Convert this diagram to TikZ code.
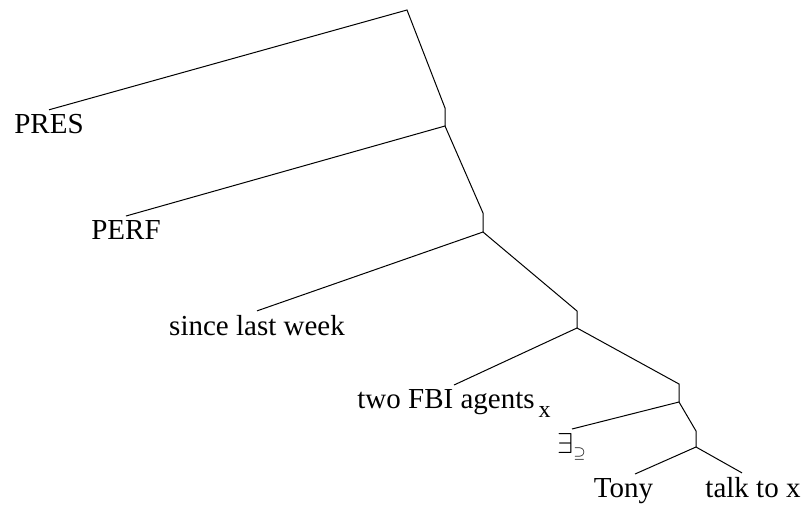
\documentclass[tikz,border=0pt]{standalone}
\usepackage{fontspec}
\setmainfont{Liberation Serif}
\begin{document}
\begin{tikzpicture}[x=0.5pt,y=-0.5pt,line width=0.5pt,
    leaf/.style={anchor=base,inner sep=0pt,outer sep=2pt,font=\fontsize{14.5}{17}\selectfont}]
      \useasboundingbox (0,0) rectangle (802,504);
      % branch points: top and bottom of each short stub
      \coordinate (r) at (407,10);
      \coordinate (a1t) at (445,108);
      \coordinate (a1b) at (445,126);
      \coordinate (a2t) at (483,213);
      \coordinate (a2b) at (483,232);
      \coordinate (a3t) at (577,311);
      \coordinate (a3b) at (577,328);
      \coordinate (a4t) at (679,384);
      \coordinate (a4b) at (679,402);
      \coordinate (a5t) at (696,431);
      \coordinate (a5b) at (696,447);
      % leaves
      \node[leaf] (pres) at (49,133) {PRES};
      \node[leaf] (perf) at (126,239) {PERF};
      \node[leaf] (since) at (257,335) {since last week};
      \node[leaf] (fbi) at (454,408) {two FBI agents\kern2pt\raisebox{-4.5pt}{\fontsize{12}{12}\selectfont x}};
      \node[leaf] (ex) at (572,453) {$\exists_{\scriptscriptstyle\supseteq}$};
      \node[leaf] (tony) at (623.5,497) {Tony};
      \node[leaf] (talk) at (753,497) {talk to x};
      \begin{scope}[-]
        \draw (pres.north) -- (r) -- (a1t) -- (a1b);
        \draw (perf.north) -- (a1b) -- (a2t) -- (a2b);
        \draw (since.north) -- (a2b) -- (a3t) -- (a3b);
        \draw (fbi.north) -- (a3b) -- (a4t) -- (a4b);
        \draw (ex.north) -- (a4b) -- (a5t) -- (a5b);
        \draw ([xshift=5.75pt]tony.north) -- (a5b) -- ([xshift=-5.5pt]talk.north);
      \end{scope}
    \end{tikzpicture}
\end{document}
